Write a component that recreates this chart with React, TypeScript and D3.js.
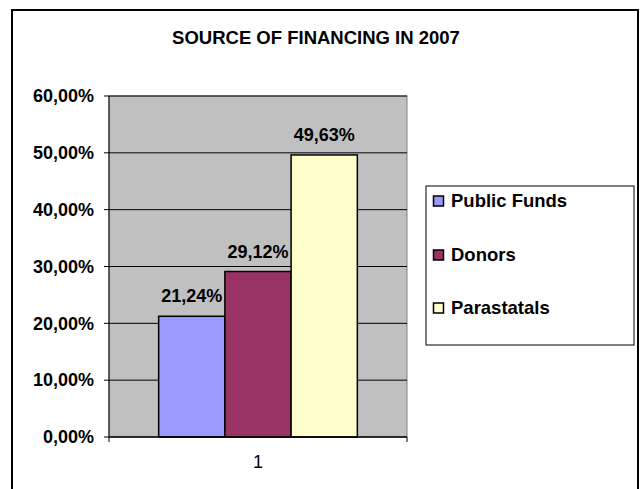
import React from "react";
import * as d3 from "d3";

const title = "SOURCE OF FINANCING IN 2007";
const categories = ["1"];
const seriesNames = ["Public Funds", "Donors", "Parastatals"];
const seriesValues = [0.2124, 0.2912, 0.4963];
const seriesColors = ["#9999FF", "#993366", "#FFFFCC"];
const yTicks = [0, 0.1, 0.2, 0.3, 0.4, 0.5, 0.6];

const W = 641;
const H = 489;
const plot = { left: 109, right: 407, top: 96, bottom: 437 };
const font = "Liberation Sans, Arial, Helvetica, sans-serif";

const fmtPct = (v: number) => d3.format(".2f")(v * 100).replace(".", ",") + "%";

export default function App() {
  const y = d3.scaleLinear().domain([0, 0.6]).range([plot.bottom, plot.top]);
  const xCat = d3.scaleBand().domain(categories).range([plot.left, plot.right]).paddingInner(0).paddingOuter(0);
  const catW = xCat.bandwidth();
  const groupW = catW * (3 / 4.5);
  const xSer = d3.scaleBand().domain(seriesNames).range([0, groupW]).padding(0);
  const legendY = [201, 255, 308];

  return (
    <svg width={W} height={H} style={{ position: "absolute", left: 0, top: 0, background: "#fff" }}>
      <rect x={12} y={10} width={626} height={500} fill="#fff" stroke="#000" strokeWidth={2} />
      <text x={316} y={44} textAnchor="middle" fontFamily={font} fontWeight="bold" fontSize={18.5} fill="#000">
        {title}
      </text>
      <rect x={plot.left} y={plot.top} width={plot.right - plot.left} height={plot.bottom - plot.top} fill="#C0C0C0" stroke="#808080" strokeWidth={1} />
      {yTicks.slice(1).map((t) => (
        <line key={"g" + t} x1={plot.left} x2={plot.right} y1={y(t)} y2={y(t)} stroke="#000" strokeWidth={1} />
      ))}
      <line x1={plot.left} x2={plot.left} y1={plot.top} y2={plot.bottom} stroke="#000" strokeWidth={1} />
      {yTicks.map((t) => (
        <g key={"t" + t}>
          <line x1={plot.left - 5} x2={plot.left} y1={y(t)} y2={y(t)} stroke="#000" />
          <text x={94} y={y(t)} dy="0.35em" textAnchor="end" fontFamily={font} fontWeight="bold" fontSize={18} fill="#000">
            {fmtPct(t)}
          </text>
        </g>
      ))}
      {categories.map((c) => {
        const x0 = (xCat(c) as number) + (catW - groupW) / 2;
        return (
          <g key={c}>
            {seriesNames.map((s, i) => {
              const bx = x0 + (xSer(s) as number);
              const by = y(seriesValues[i]);
              return (
                <g key={s}>
                  <rect x={bx} y={by} width={xSer.bandwidth()} height={plot.bottom - by} fill={seriesColors[i]} stroke="#000" strokeWidth={1.5} />
                  <text x={bx + xSer.bandwidth() / 2} y={by - 14} textAnchor="middle" fontFamily={font} fontWeight="bold" fontSize={18} fill="#000">
                    {fmtPct(seriesValues[i])}
                  </text>
                </g>
              );
            })}
            <text x={(xCat(c) as number) + catW / 2} y={468} textAnchor="middle" fontFamily={font} fontSize={18} fill="#000">
              {c}
            </text>
          </g>
        );
      })}
      <line x1={plot.left} x2={plot.right} y1={plot.bottom} y2={plot.bottom} stroke="#000" strokeWidth={1.5} />
      <line x1={plot.left} x2={plot.left} y1={plot.bottom} y2={plot.bottom + 5} stroke="#000" />
      <line x1={plot.right} x2={plot.right} y1={plot.bottom} y2={plot.bottom + 5} stroke="#000" />
      <rect x={426} y={186} width={208} height={159} fill="#fff" stroke="#000" strokeWidth={1} />
      {seriesNames.map((s, i) => (
        <g key={"l" + s}>
          <rect x={433.5} y={legendY[i] - 5} width={10} height={10} fill={seriesColors[i]} stroke="#000" strokeWidth={1.5} />
          <text x={451} y={legendY[i]} dy="0.35em" fontFamily={font} fontWeight="bold" fontSize={18.5} fill="#000">
            {s}
          </text>
        </g>
      ))}
    </svg>
  );
}
